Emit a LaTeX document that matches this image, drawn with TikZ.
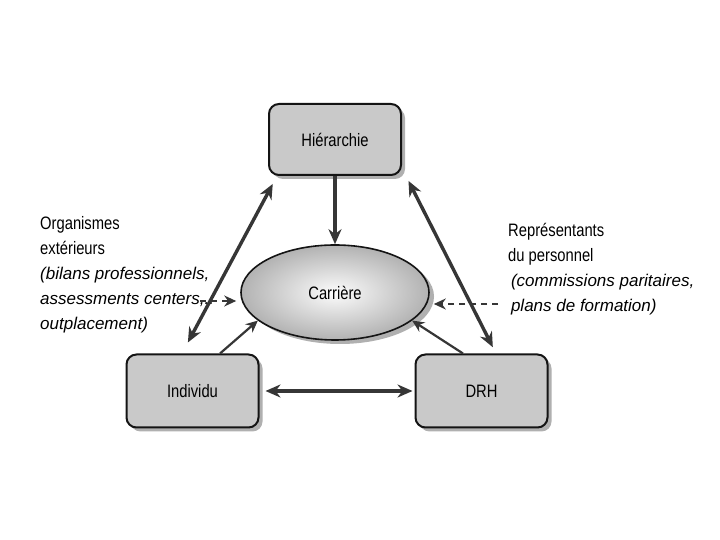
\documentclass[tikz,border=0pt]{standalone}
\usepackage{fontspec}
\setmainfont{Liberation Sans}
\newfontfamily\condsans{Liberation Sans}[FakeStretch=0.82]
\usetikzlibrary{arrows.meta, positioning, shadows, calc, shapes.geometric}
\definecolor{boxfill}{HTML}{C9C9C9}
\definecolor{boxline}{HTML}{141414}
\definecolor{shadowgray}{HTML}{B0B0B0}
\definecolor{arrowline}{HTML}{363636}
\definecolor{ovalout}{HTML}{B2B2B2}
\definecolor{ovalin}{HTML}{FCFCFC}
\tikzset{
  actor/.style = {rectangle, rounded corners=10pt, draw=boxline, fill=boxfill,
                  line width=2pt, align=center, font=\condsans\fontsize{18}{20}\selectfont,
                  minimum width=132pt, minimum height=73pt, inner sep=3pt,
                  drop shadow={shadow xshift=4pt, shadow yshift=-4pt, fill=shadowgray, opacity=1}},
  oval/.style  = {ellipse, draw=boxline, line width=1.6pt, inner color=ovalin, outer color=ovalout,
                  font=\condsans\fontsize{18}{20}\selectfont, minimum width=188pt, minimum height=95pt,
                  drop shadow={shadow xshift=5pt, shadow yshift=-4pt, fill=shadowgray, opacity=1}},
  side/.style  = {align=left, anchor=north west, inner sep=0pt, font=\fontsize{17}{25}\selectfont},
  link/.style  = {{Stealth[length=15pt, width=13pt]}-{Stealth[length=15pt, width=13pt]},
                  line width=3.4pt, draw=arrowline},
  flow/.style  = {-{Stealth[length=15pt, width=13pt]}, line width=3.4pt, draw=arrowline},
  feed/.style  = {-{Stealth[length=12pt, width=11pt]}, line width=2.2pt, draw=arrowline},
  hint/.style  = {-{Stealth[length=12pt, width=11pt]}, line width=1.7pt, draw=arrowline,
                  dash pattern=on 6pt off 5pt},
}
\begin{document}
\begin{tikzpicture}[x=1pt, y=1pt]
    \fill[white] (0,0) rectangle (720,540);
    \useasboundingbox (0,0) rectangle (720,540);
    % actors and career
    \node[actor, minimum height=71pt] (hier)  at (335,400.5) {Hiérarchie};
    \node[actor]                      (indiv) at (192.5,149) {Individu};
    \node[actor]                      (drh)   at (481.5,149) {DRH};
    \node[oval]                       (carr)  at (335,247.5) {Carrière};
    % side notes
    \node[side] (orgext) at (40,323.5) {{\condsans\fontsize{18}{25}\selectfont Organismes}\\
        {\condsans\fontsize{18}{25}\selectfont extérieurs}\\
        \textit{(bilans professionnels,}\\\textit{assessments centers,..}\\\textit{outplacement)}};
    \node[side] (reppers) at (508,316.5) {{\condsans\fontsize{18}{25}\selectfont Représentants}\\
        {\condsans\fontsize{18}{25}\selectfont du personnel}\\
        \textit{\,(commissions paritaires,}\\\textit{\,plans de formation)}};
    \coordinate (orgdash) at (200,239);
    \coordinate (repdash) at (498,236);
    % connectors
    \draw[link, shorten <=9pt, shorten >=12.5pt] ([xshift=9pt]hier.south west) -- ([xshift=-10.5pt]indiv.north);
    \draw[link, shorten <=5.5pt, shorten >=7pt] ([xshift=4pt]hier.south east) -- ([xshift=14.5pt]drh.north);
    \draw[link, shorten <=6pt, shorten >=2pt] (indiv.east) -- (drh.west);
    \draw[flow] (hier.south) -- (carr.north);
    \draw[feed] ([xshift=27.5pt]indiv.north) -- (carr.200);
    \draw[feed] ([xshift=-18.5pt]drh.north) -- (carr.340);
    \draw[hint, shorten >=4pt] (orgdash) -- (orgdash -| carr.west);
    \draw[hint, shorten >=4pt] (repdash) -- (repdash -| carr.east);
\end{tikzpicture}
\end{document}
